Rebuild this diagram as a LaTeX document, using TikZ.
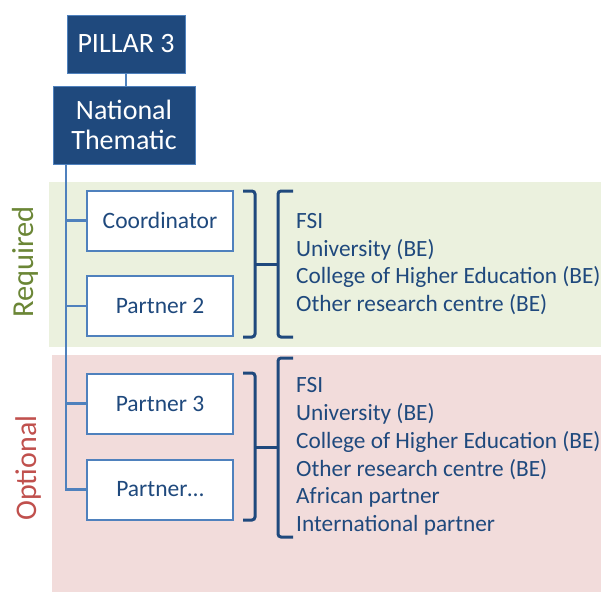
\documentclass[tikz,border=0pt]{standalone}
\usepackage{fontspec}
\setmainfont{Carlito}
\usepackage{tikz}
\usetikzlibrary{positioning}

\definecolor{darkblue}{HTML}{1F497D}
\definecolor{midblue}{HTML}{4F81BD}
\definecolor{greenband}{HTML}{EBF1DE}
\definecolor{pinkband}{HTML}{F2DCDB}
\definecolor{reqgreen}{HTML}{6B8636}
\definecolor{optred}{HTML}{C0504D}

\begin{document}
\begin{tikzpicture}[x=1pt,y=-1pt,
    topbox/.style={fill=darkblue,draw=midblue,line width=0.8pt,text=white,
      inner sep=0pt,align=center,font=\fontsize{28}{30}\selectfont},
    partnerbox/.style={fill=white,draw=midblue,line width=2pt,text=darkblue,
      minimum width=146pt,minimum height=60pt,inner sep=0pt,
      font=\fontsize{23.5}{25}\selectfont},
    link/.style={draw=midblue,line width=2.8pt},
    brace/.style={draw=darkblue,line width=3pt,rounded corners=3pt},
    list/.style={anchor=west,align=left,text=darkblue,inner sep=0pt,
      font=\fontsize{23.3}{27.8}\selectfont}]
  \useasboundingbox (0,0) rectangle (601,592);

  % bands
  \fill[greenband] (49,182) rectangle (601,347);
  \fill[pinkband] (52,355) rectangle (601,592);

  \draw (25,262) node[rotate=90,text=reqgreen,font=\fontsize{30.5}{32}\selectfont] (required) {Required};
  \draw (29,468) node[rotate=90,text=optred,font=\fontsize{30}{32}\selectfont] (optional) {Optional};

  \draw (126,44) node[topbox,minimum width=118pt,minimum height=58pt] (pillar) {PILLAR 3};
  \draw (124,125) node[topbox,minimum width=142pt,minimum height=78pt] (national) {National\\Thematic};
    \path[link] (pillar.south) -- (pillar.south |- national.north);

  \draw (160,220.5) node[partnerbox] (coordinator) {Coordinator};
  \draw (160,306) node[partnerbox] (partner2) {Partner 2};
  \draw (160,403.5) node[partnerbox] (partner3) {Partner 3};
  \draw (160,489.5) node[partnerbox] (partnerx) {Partner\ldots};

  \coordinate (trunk) at (66,164);
    \path[link] (trunk) |- (coordinator.west);
    \path[link] (trunk) |- (partner2.west);
    \path[link] (trunk) |- (partner3.west);
    \path[link] (trunk) |- (partnerx.west);

  % required members
  \draw[brace] (243,191) -- (255,191) -- (255,337) -- (243,337);
  \draw[brace] (293,191) -- (278,191) -- (278,337) -- (293,337);
  \draw[brace] (255,264) -- (278,264);
  \draw (296,264) node[list] (reqlist) {FSI\\University (BE)\\College of Higher Education (BE)\\Other research centre (BE)};

  % optional members
  \draw[brace] (243,373) -- (255,373) -- (255,520) -- (243,520);
  \draw[brace] (293,358) -- (278,358) -- (278,537) -- (293,537);
  \draw[brace] (255,447) -- (278,447);
  \draw (296,456.5) node[list] (optlist) {FSI\\University (BE)\\College of Higher Education (BE)\\Other research centre (BE)\\African partner\\International partner};

\end{tikzpicture}
\end{document}
